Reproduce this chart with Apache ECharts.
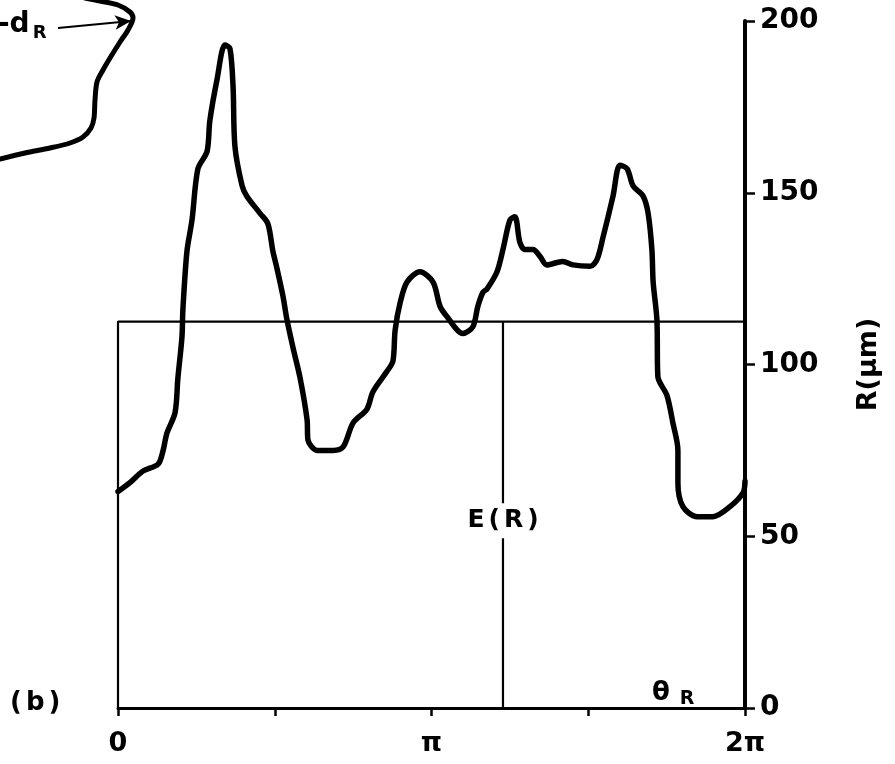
<!DOCTYPE html>
<html>
<head>
<meta charset="utf-8">
<script src="https://cdn.jsdelivr.net/npm/echarts@6/dist/echarts.min.js"></script>
<style>html,body{margin:0;padding:0;background:#fff}#c{width:895px;height:764px}</style>
</head>
<body>
<div id="c"></div>
<script>
// theta_R in units of pi, R in micrometres
const thetaR = [0,0.038,0.080,0.128,0.144,0.156,0.182,0.191,0.204,0.207,0.220,0.236,0.255,0.284,0.293,0.316,0.341,0.357,0.367,0.373,0.396,0.411,0.453,0.478,0.494,0.507,0.526,0.539,0.558,0.581,0.603,0.606,0.635,0.686,0.718,0.750,0.794,0.813,0.858,0.877,0.884,0.900,0.922,0.963,1.005,1.027,1.049,1.100,1.132,1.148,1.164,1.177,1.209,1.228,1.250,1.266,1.282,1.298,1.324,1.346,1.368,1.419,1.451,1.506,1.528,1.547,1.579,1.601,1.624,1.643,1.675,1.691,1.703,1.707,1.719,1.722,1.751,1.770,1.786,1.786,1.802,1.847,1.898,1.952,1.994,2.0];
const radius = [63,65.6,69,71,75,80,86,96,108,116,133,142,157,162,171,183,193,192,181,163.5,152,149,144,141,133,128,120,113,105,96,84,78,75,75,76,83,87,92,98,101,110,118,124,127,124,117,114,109,111,117,121,122,127,133.5,142,143,135.5,133.5,133.5,131.5,129,130,129,128.6,130.6,137,149,158,157,152,149,144,133.5,124,113,96.5,91,83,75,65.6,58.6,55.7,55.7,58.6,62.7,66];
const meanR = 112.5;       // E(R)
const eTheta = 1.228;      // position of E(R) marker line (units of pi)
const xTicks = {0:'0', 1:'π', 2:'2π'};
// fragment of inset (a) in the top-left corner
const insetX = [0,25,50,70,83,91,94,95,97,103,110,120,128,133,130,118,100,85];
const insetY = [159,153,148,143,137,128,118,100,82,70,58,42,30,18,12,5,1,-2];

const chart = echarts.init(document.getElementById('c'));
const font = 'DejaVu Sans';
const sp = (n) => ({fontFamily: font, fontWeight: 'bold', fontSize: n, color: '#000', fill: '#000', padding: [0, 2, 0, 2]});
chart.setOption({
  backgroundColor: '#fff',
  animation: false,
  grid: [
    {left: 118, right: 150, top: 21, bottom: 56},
    {left: 0, top: 0, width: 140, height: 170}
  ],
  xAxis: [{
    type: 'value', min: 0, max: 2, interval: 0.5, gridIndex: 0,
    axisLine: {show: true, lineStyle: {color: '#000', width: 3}},
    axisTick: {show: true, length: 8, lineStyle: {color: '#000', width: 2.5}},
    axisLabel: {color: '#000', fontFamily: font, fontWeight: 'bold', fontSize: 27, margin: 22,
      formatter: v => (xTicks[v] !== undefined ? xTicks[v] : '')},
    splitLine: {show: false}
  }, {
    type: 'value', min: 0, max: 140, gridIndex: 1, show: false
  }],
  yAxis: [{
    type: 'value', min: 0, max: 200, interval: 50, position: 'right', gridIndex: 0,
    axisLine: {show: true, onZero: false, lineStyle: {color: '#000', width: 4}},
    axisTick: {show: true, length: 10, lineStyle: {color: '#000', width: 2.5}},
    axisLabel: {color: '#000', fontFamily: font, fontWeight: 'bold', fontSize: 28, margin: 15},
    splitLine: {show: false},
    name: 'R(μm)', nameLocation: 'middle', nameRotate: 90, nameGap: 110,
    nameTextStyle: {color: '#000', fontFamily: font, fontWeight: 'bold', fontSize: 27}
  }, {
    type: 'value', min: 0, max: 170, inverse: true, gridIndex: 1, show: false
  }],
  series: [
    {
      type: 'line', xAxisIndex: 0, yAxisIndex: 0, symbol: 'none', z: 3,
      lineStyle: {color: '#000', width: 2.2},
      data: [[0, 0], [0, meanR], [2, meanR]]
    },
    {
      type: 'line', xAxisIndex: 0, yAxisIndex: 0, symbol: 'none', z: 3,
      lineStyle: {color: '#000', width: 2.2},
      data: [[eTheta, meanR], [eTheta, 0]]
    },
    {
      type: 'line', xAxisIndex: 0, yAxisIndex: 0, symbol: 'none', smooth: 0.3, z: 4,
      lineStyle: {color: '#000', width: 5.5, join: 'round', cap: 'round'},
      data: thetaR.map((t, i) => [t, radius[i]])
    },
    {
      type: 'scatter', xAxisIndex: 0, yAxisIndex: 0, symbolSize: 0, z: 10,
      itemStyle: {color: '#fff', opacity: 1},
      label: {show: true, position: [0, 0], align: 'center', verticalAlign: 'middle', color: '#000',
        formatter: '{a|E}{a|(}{a|R}{a|)}',
        rich: {a: sp(25)},
        backgroundColor: '#fff', padding: [5, 2]},
      data: [[eTheta, 54.5]]
    },
    {
      type: 'line', xAxisIndex: 1, yAxisIndex: 1, symbol: 'none', smooth: 0.3, z: 4,
      lineStyle: {color: '#000', width: 5, cap: 'round'},
      data: insetX.map((x, i) => [x, insetY[i]]),
      markLine: {
        silent: true, symbol: ['none', 'arrow'], symbolSize: [11, 16],
        lineStyle: {color: '#000', width: 1.8, type: 'solid'},
        label: {show: false},
        data: [[{coord: [58, 28]}, {coord: [131, 21]}]]
      }
    }
  ],
  graphic: [
    {type: 'text', left: -2, top: 11, z: 20, style: {
      text: '{m|-d}{s|R}', rich: {
        m: {fontFamily: font, fontWeight: 'bold', fontSize: 28, fill: '#000'},
        s: {fontFamily: font, fontWeight: 'bold', fontSize: 18, fill: '#000', padding: [16, 0, 0, 3]}
      }}},
    {type: 'text', left: 10, top: 690, z: 20, style: {
      text: '{a|(}{a|b}{a|)}', rich: {a: sp(26)}}},
    {type: 'text', left: 652, top: 680, z: 20, style: {
      text: '{t|θ}{s|R}', rich: {
        t: {fontFamily: font, fontWeight: 'bold', fontSize: 26, fill: '#000'},
        s: {fontFamily: font, fontWeight: 'bold', fontSize: 19, fill: '#000', padding: [12, 0, 0, 10]}
      }}}
  ]
});
</script>
</body>
</html>
